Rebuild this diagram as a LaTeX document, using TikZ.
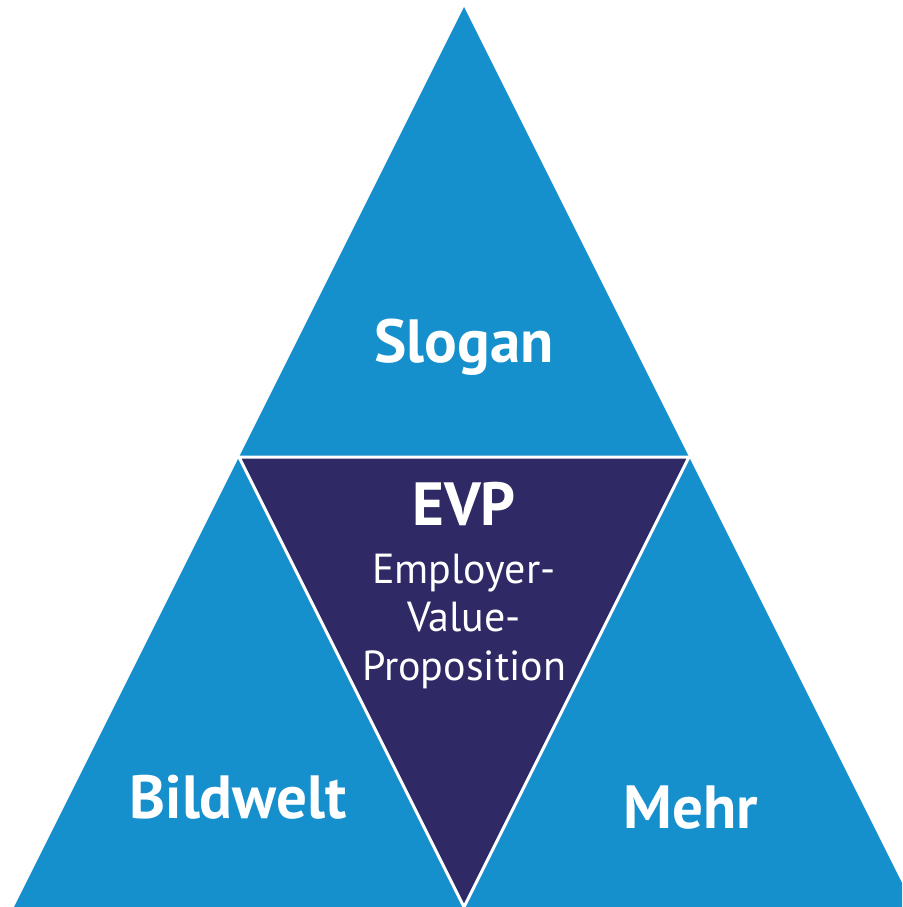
\documentclass[tikz,border=0pt]{standalone}
\usepackage{fontspec}
\setmainfont{PT Sans}
\usetikzlibrary{positioning}
\definecolor{evpblue}{HTML}{168FCD}
\definecolor{evpdark}{HTML}{2F2965}
\tikzstyle{piece} = [fill=evpblue]
\tikzstyle{core} = [fill=evpdark, draw=white, line width=3pt, line join=miter]
\tikzstyle{title} = [text=white, anchor=base, inner sep=0pt, font=\fontsize{61}{63}\selectfont\bfseries]

\begin{document}
\begin{tikzpicture}[x=1pt, y=-1pt]
  \useasboundingbox (0,0) rectangle (902,907);
  \clip (0,0) rectangle (902,907);
  % outer triangle and corners
  \coordinate (top) at (464,7);
  \coordinate (bl) at (14,907);
  \coordinate (br) at (914,907);
  \coordinate (ml) at (239,457);
  \coordinate (mr) at (689,457);
  \coordinate (mb) at (464,907);
  \fill[piece] (top) -- (bl) -- (br) -- cycle;

  % inner triangle
  \draw[core] (ml) -- (mr) -- (mb) -- cycle;

  % labels
  \node[title] (slogan) at (464,362) {Slogan};
  \node[title] (bildwelt) at (238,818) {Bildwelt};
  \node[title] (mehr) at (691,828) {Mehr};
  \node[title] (evp) at (464,525) {EVP};
  \node[text=white, anchor=base, align=center, inner sep=0pt,
        font=\fontsize{42}{48.5}\selectfont] (evptext) at (464,680)
        {Employer-\\Value-\\Proposition};
\end{tikzpicture}
\end{document}
